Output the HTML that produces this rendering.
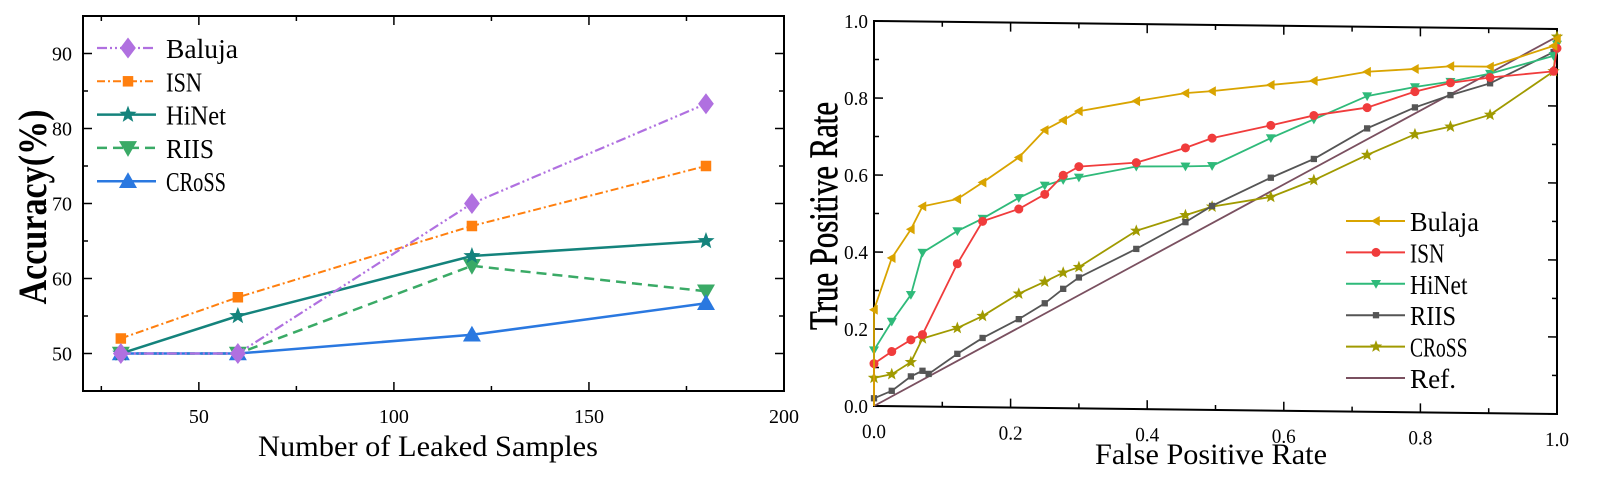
<!DOCTYPE html>
<html><head><meta charset="utf-8">
<style>
html,body{margin:0;padding:0;background:#fff;}
svg{display:block;font-family:"Liberation Serif",serif;}
</style></head>
<body>
<svg id="chart" width="1606" height="482" viewBox="0 0 1606 482" xmlns="http://www.w3.org/2000/svg">
<g id="left"></g>
<g id="right"></g>
</svg>
<script>
// ---- Left chart data ----
const samples = [30, 60, 120, 180];
const balujaAcc = [50, 50, 70, 83.3];
const isnAcc = [52, 57.5, 67, 75];
const hinetAcc = [50, 55, 63, 65];
const riisAcc = [50, 50, 61.7, 58.3];
const crossAcc = [50, 50, 52.5, 56.7];
const leftXTicks = [50, 100, 150, 200];
const leftYTicks = [50, 60, 70, 80, 90];

// ---- Right chart data ----
const fpr = [0, 0, 0.026, 0.054, 0.071, 0.122, 0.159, 0.212, 0.25, 0.277, 0.3, 0.384, 0.456, 0.495, 0.581, 0.644, 0.722, 0.792, 0.844, 0.902, 0.995, 1];
const bulajaTpr = [0, 0.25, 0.385, 0.46, 0.52, 0.54, 0.584, 0.65, 0.722, 0.748, 0.772, 0.8, 0.822, 0.828, 0.846, 0.858, 0.883, 0.892, 0.9, 0.9, 0.956, 0.975];
const isnTpr = [0, 0.11, 0.142, 0.173, 0.187, 0.372, 0.483, 0.516, 0.555, 0.605, 0.628, 0.64, 0.68, 0.706, 0.741, 0.768, 0.79, 0.833, 0.857, 0.872, 0.89, 0.95];
const hinetTpr = [0, 0.145, 0.22, 0.29, 0.4, 0.457, 0.49, 0.545, 0.578, 0.593, 0.6, 0.63, 0.632, 0.634, 0.708, 0.758, 0.82, 0.845, 0.86, 0.882, 0.93, 0.96];
const riisFpr = [0, 0, 0.026, 0.054, 0.071, 0.08, 0.122, 0.159, 0.212, 0.25, 0.277, 0.3, 0.384, 0.456, 0.495, 0.581, 0.644, 0.722, 0.792, 0.844, 0.902, 0.995, 1];
const riisTpr = [0, 0.02, 0.04, 0.078, 0.093, 0.085, 0.138, 0.18, 0.23, 0.272, 0.31, 0.34, 0.416, 0.487, 0.53, 0.605, 0.655, 0.736, 0.792, 0.825, 0.857, 0.94, 0.97];
const crossTpr = [0, 0.073, 0.083, 0.115, 0.177, 0.205, 0.237, 0.296, 0.328, 0.352, 0.367, 0.463, 0.505, 0.528, 0.555, 0.6, 0.667, 0.722, 0.743, 0.775, 0.89, 0.98];
const refFpr = [0, 1];
const refTpr = [0, 0.98];
const rightTicks = [0, 0.2, 0.4, 0.6, 0.8, 1.0];

const NS = "http://www.w3.org/2000/svg";
function mk(parent, tag, attrs, text) {
  const e = document.createElementNS(NS, tag);
  for (const k in attrs) e.setAttribute(k, attrs[k]);
  if (text !== undefined) e.textContent = text;
  parent.appendChild(e);
  return e;
}
function marker(g, type, x, y, s, color) {
  let e;
  if (type === 'diamond') e = mk(g, 'polygon', {points: `${x},${y-s} ${x+s*0.75},${y} ${x},${y+s} ${x-s*0.75},${y}`, fill: color});
  else if (type === 'square') e = mk(g, 'rect', {x: x-s*0.7, y: y-s*0.7, width: s*1.4, height: s*1.4, fill: color});
  else if (type === 'circle') e = mk(g, 'circle', {cx: x, cy: y, r: s, fill: color});
  else if (type === 'tri-up') e = mk(g, 'polygon', {points: `${x},${y-s} ${x+s},${y+s*0.75} ${x-s},${y+s*0.75}`, fill: color});
  else if (type === 'tri-down') e = mk(g, 'polygon', {points: `${x},${y+s} ${x+s},${y-s*0.75} ${x-s},${y-s*0.75}`, fill: color});
  else if (type === 'tri-left') e = mk(g, 'polygon', {points: `${x-s},${y} ${x+s*0.75},${y-s} ${x+s*0.75},${y+s}`, fill: color});
  else if (type === 'star') {
    let p = [];
    for (let i = 0; i < 10; i++) {
      const r = i % 2 ? s*0.42 : s;
      const a = -Math.PI/2 + i*Math.PI/5;
      p.push((x + r*Math.cos(a)).toFixed(2) + ',' + (y + r*Math.sin(a)).toFixed(2));
    }
    e = mk(g, 'polygon', {points: p.join(' '), fill: color});
  }
  
  
  return e;
}

// ================= LEFT =================
(function(){
  const g = document.getElementById('left');
  const L = 83, R = 784, T = 16, B = 391;
  const xmin = 20.3, xmax = 200, ymin = 45, ymax = 95;
  const sx = v => L + (v - xmin) / (xmax - xmin) * (R - L);
  const sy = v => B - (v - ymin) / (ymax - ymin) * (B - T);

  const frame = mk(g, 'rect', {x: L, y: T, width: R-L, height: B-T, fill: 'none', stroke: '#000', 'stroke-width': 2});
  
  

  const xt = mk(g, 'g', {});
  
  
  for (let v = 25; v <= 200; v += 25) {
    const major = v % 50 === 0;
    const len = major ? 9 : 5;
    mk(xt, 'line', {x1: sx(v), x2: sx(v), y1: B, y2: B - len, stroke: '#000', 'stroke-width': 1.5});
    mk(xt, 'line', {x1: sx(v), x2: sx(v), y1: T, y2: T + len, stroke: '#000', 'stroke-width': 1.5});
  }
  leftXTicks.forEach(v => {
    const t = mk(xt, 'text', {x: sx(v), y: B + 32, 'font-size': 20, 'text-anchor': 'middle'}, String(v));
    
    
  });
  const yt = mk(g, 'g', {});
  
  
  for (let v = 45; v <= 95; v += 5) {
    const major = v % 10 === 0;
    const len = major ? 9 : 5;
    mk(yt, 'line', {x1: L, x2: L + len, y1: sy(v), y2: sy(v), stroke: '#000', 'stroke-width': 1.5});
    mk(yt, 'line', {x1: R, x2: R - len, y1: sy(v), y2: sy(v), stroke: '#000', 'stroke-width': 1.5});
  }
  leftYTicks.forEach(v => {
    const t = mk(yt, 'text', {x: 72, y: sy(v) + 7, 'font-size': 20, 'text-anchor': 'end'}, String(v));
    
    
  });
  const xTitle = mk(g, 'text', {x: 428, y: 456, 'font-size': 30, 'text-anchor': 'middle', textLength: 340, lengthAdjust: 'spacingAndGlyphs'}, 'Number of Leaked Samples');
  
  
  const yTitle = mk(g, 'text', {x: 0, y: 0, 'font-size': 40, 'font-weight': 'bold', 'text-anchor': 'middle', textLength: 195, lengthAdjust: 'spacingAndGlyphs', transform: 'translate(46,207) rotate(-90)'}, 'Accuracy(%)');
  
  

  const series = [
    {name: 'RIIS', vals: riisAcc, color: '#3aaa66', dash: '10,6', w: 2.5, m: 'tri-down', ms: 9},
    {name: 'CRoSS', vals: crossAcc, color: '#2a78e0', dash: '', w: 2.5, m: 'tri-up', ms: 9},
    {name: 'HiNet', vals: hinetAcc, color: '#14837c', dash: '', w: 2.5, m: 'star', ms: 9},
    {name: 'ISN', vals: isnAcc, color: '#ff7f0e', dash: '8,3,2,3', w: 2, m: 'square', ms: 7.5},
    {name: 'Baluja', vals: balujaAcc, color: '#b070e0', dash: '10,3,2,3,2,3', w: 2.2, m: 'diamond', ms: 10.5},
  ];
  series.forEach(s => {
    const sg = mk(g, 'g', {});
    
    
    const pts = samples.map((x, i) => sx(x).toFixed(1) + ',' + sy(s.vals[i]).toFixed(1)).join(' ');
    const pl = mk(sg, 'polyline', {points: pts, fill: 'none', stroke: s.color, 'stroke-width': s.w, 'stroke-dasharray': s.dash});
    
    
    samples.forEach((x, i) => marker(sg, s.m, sx(x), sy(s.vals[i]), s.ms, s.color));
  });

  const leg = mk(g, 'g', {});
  
  
  const order = ['Baluja', 'ISN', 'HiNet', 'RIIS', 'CRoSS'];
  order.forEach((n, i) => {
    const s = series.find(q => q.name === n);
    const y = 48 + i * 33.3;
    const eg = mk(leg, 'g', {});
    
    
    mk(eg, 'line', {x1: 97, x2: 156, y1: y, y2: y, stroke: s.color, 'stroke-width': s.w, 'stroke-dasharray': s.dash});
    marker(eg, s.m, 128, y, s.ms, s.color);
    mk(eg, 'text', {x: 166, y: y + 10, 'font-size': 27, textLength: n.length * 12, lengthAdjust: 'spacingAndGlyphs'}, n);
  });
})();

// ================= RIGHT =================
(function(){
  const g = document.getElementById('right');
  const L = 874, R = 1557, T = 21, B = 406;
  const sx = v => L + v * (R - L);
  const sy = v => B - v * (B - T);

  const yt = mk(g, 'g', {});
  
  
  rightTicks.forEach(v => {
    const t = mk(yt, 'text', {x: 868, y: sy(v) + 7, 'font-size': 20, 'text-anchor': 'end', textLength: 24, lengthAdjust: 'spacingAndGlyphs'}, v.toFixed(1));
    
    
  });
  const yTitle = mk(g, 'text', {x: 0, y: 0, 'font-size': 40, 'text-anchor': 'middle', textLength: 228, lengthAdjust: 'spacingAndGlyphs', stroke: '#000', 'stroke-width': 0.6, transform: 'translate(837,216) rotate(-90)'}, 'True Positive Rate');
  
  
  const xTitle = mk(g, 'text', {x: 1211, y: 464, 'font-size': 30, 'text-anchor': 'middle', textLength: 232, lengthAdjust: 'spacingAndGlyphs'}, 'False Positive Rate');
  
  

  const pg = mk(g, 'g', {transform: `translate(${L},0) skewY(0.67) translate(${-L},0)`});
  
  
  const frame = mk(pg, 'rect', {x: L, y: T, width: R-L, height: B-T, fill: 'none', stroke: '#000', 'stroke-width': 2});
  
  
  const xt = mk(pg, 'g', {});
  
  
  for (let i = 0; i <= 10; i++) {
    const v = i / 10, len = i % 2 === 0 ? 9 : 5;
    mk(xt, 'line', {x1: sx(v), x2: sx(v), y1: B, y2: B - len, stroke: '#000', 'stroke-width': 1.5});
    mk(xt, 'line', {x1: sx(v), x2: sx(v), y1: T, y2: T + len, stroke: '#000', 'stroke-width': 1.5});
    mk(xt, 'line', {x1: L, x2: L + len, y1: sy(v), y2: sy(v), stroke: '#000', 'stroke-width': 1.5});
    mk(xt, 'line', {x1: R, x2: R - len, y1: sy(v), y2: sy(v), stroke: '#000', 'stroke-width': 1.5});
  }
  rightTicks.forEach(v => {
    const t = mk(xt, 'text', {x: sx(v), y: B + 32, 'font-size': 20, 'text-anchor': 'middle', textLength: 24, lengthAdjust: 'spacingAndGlyphs'}, v.toFixed(1));
    
    
  });

  const series = [
    {name: 'Ref.', xs: refFpr, ys: refTpr, color: '#7a5060', m: null},
    {name: 'CRoSS', xs: fpr, ys: crossTpr, color: '#a09a00', m: 'star', ms: 6.5},
    {name: 'RIIS', xs: riisFpr, ys: riisTpr, color: '#555555', m: 'square', ms: 4.5},
    {name: 'HiNet', xs: fpr, ys: hinetTpr, color: '#2fba7a', m: 'tri-down', ms: 5},
    {name: 'ISN', xs: fpr, ys: isnTpr, color: '#f03c3c', m: 'circle', ms: 4.5},
    {name: 'Bulaja', xs: fpr, ys: bulajaTpr, color: '#d9a400', m: 'tri-left', ms: 5},
  ];
  series.forEach(s => {
    const sg = mk(pg, 'g', {});
    
    
    const pts = s.xs.map((x, i) => sx(x).toFixed(1) + ',' + sy(s.ys[i]).toFixed(1)).join(' ');
    const pl = mk(sg, 'polyline', {points: pts, fill: 'none', stroke: s.color, 'stroke-width': 1.8});
    
    
    if (s.m) s.xs.forEach((x, i) => { if (i > 0) marker(sg, s.m, sx(x), sy(s.ys[i]), s.ms, s.color); });
  });

  const leg = mk(g, 'g', {});
  
  
  const order = ['Bulaja', 'ISN', 'HiNet', 'RIIS', 'CRoSS', 'Ref.'];
  order.forEach((n, i) => {
    const s = series.find(q => q.name === n);
    const y = 221 + i * 31.4;
    const eg = mk(leg, 'g', {});
    
    
    mk(eg, 'line', {x1: 1346, x2: 1405, y1: y, y2: y, stroke: s.color, 'stroke-width': 2});
    if (s.m) marker(eg, s.m, 1376, y, s.ms, s.color);
    mk(eg, 'text', {x: 1410, y: y + 10, 'font-size': 27, textLength: n.length * 11.5, lengthAdjust: 'spacingAndGlyphs'}, n);
  });
})();
</script>
</body></html>
